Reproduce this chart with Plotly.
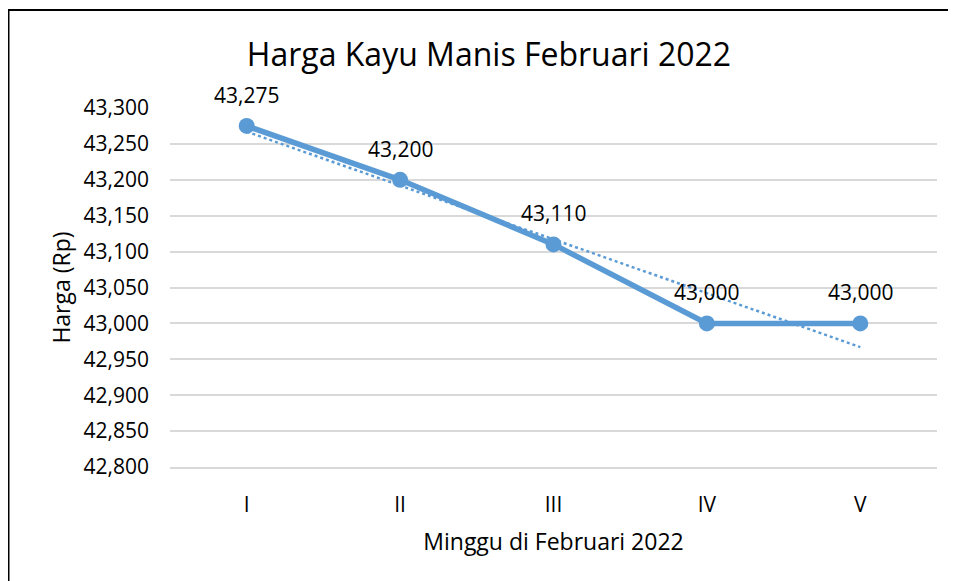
import numpy as np
import plotly.graph_objects as go

weeks = ["I", "II", "III", "IV", "V"]
prices = [43275, 43200, 43110, 43000, 43000]
y_ticks = [42800, 42850, 42900, 42950, 43000, 43050, 43100, 43150, 43200, 43250, 43300]

title_text = "Harga Kayu Manis Februari 2022"
x_title = "Minggu di Februari 2022"
y_title = "Harga (Rp)"

BLUE = "#5B9BD5"
FONT = "Open Sans"

# linear trendline (least squares) over week index
idx = np.arange(1, len(prices) + 1)
slope, intercept = np.polyfit(idx, prices, 1)
trend = slope * idx + intercept

fig = go.Figure()
fig.add_trace(go.Scatter(
    x=weeks, y=trend, mode="lines",
    line=dict(color=BLUE, width=2.5, dash="dot"),
    hoverinfo="skip", showlegend=False,
))
fig.add_trace(go.Scatter(
    x=weeks, y=prices, mode="lines+markers",
    line=dict(color=BLUE, width=5.5),
    marker=dict(color=BLUE, size=16),
    showlegend=False,
))

for w, p in zip(weeks, prices):
    fig.add_annotation(
        x=w, y=p, text=f"{p:,}", showarrow=False,
        yshift=31, font=dict(family=FONT, size=21, color="#000000"),
    )

W, H = 956, 581
L, R, T, B = 162, 27, 100, 122
pw, ph = W - L - R, H - T - B

def px_to_paper(x, y):
    return (x - L) / pw, 1 - (y - T) / ph

bx0, by0 = px_to_paper(0.5, 2)
bx1, by1 = px_to_paper(990, 620)
fig.add_shape(type="rect", xref="paper", yref="paper",
              x0=bx0, y0=by1, x1=bx1, y1=by0,
              line=dict(color="#000000", width=2), layer="below")

fig.update_layout(
    width=W, height=H,
    margin=dict(l=L, r=R, t=T, b=B),
    paper_bgcolor="white", plot_bgcolor="white",
    font=dict(family=FONT, color="#000000"),
    title=dict(text=title_text, font=dict(family=FONT, size=32, color="#000000"),
               x=481 / W, xanchor="center", xref="container",
               y=1 - 47 / H, yanchor="middle", yref="container"),
)
fig.update_xaxes(
    type="category", range=[-0.5, len(weeks) - 0.5],
    showgrid=False, zeroline=False,
    showline=True, linecolor="#D9D9D9", linewidth=1.5,
    ticks="", tickfont=dict(family=FONT, size=21, color="#000000"),
    ticklabelstandoff=18,
    title=dict(text=x_title, font=dict(family=FONT, size=23, color="#000000"), standoff=17),
)
fig.update_yaxes(
    range=[42800, 43300], tickvals=y_ticks,
    ticktext=[f"{v:,}" for v in y_ticks],
    showgrid=True, gridcolor="#D9D9D9", gridwidth=1.5,
    zeroline=False, showline=False, ticks="",
    tickfont=dict(family=FONT, size=21, color="#000000"),
    ticklabelstandoff=20,
    title=dict(text=y_title, font=dict(family=FONT, size=23, color="#000000"), standoff=6),
)

fig.write_html("out.html")
